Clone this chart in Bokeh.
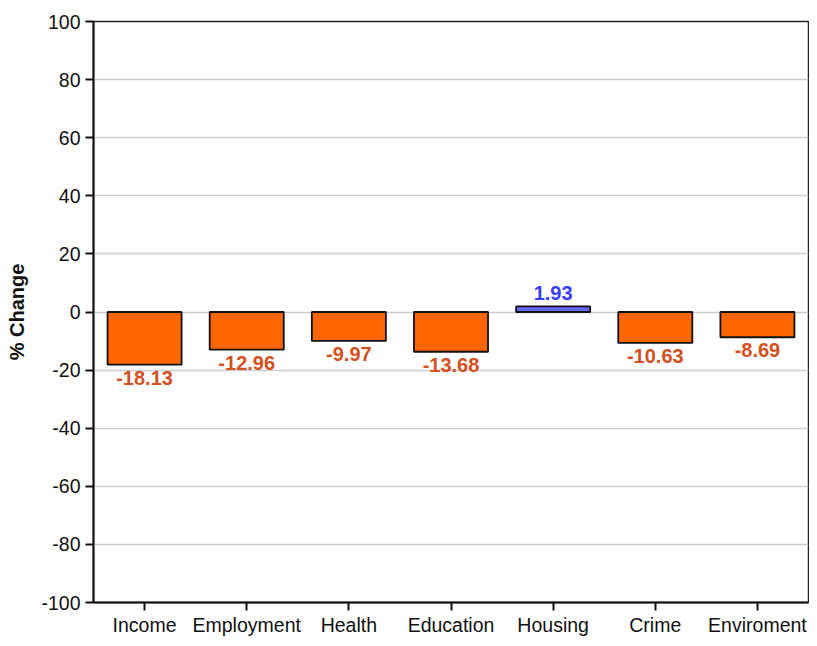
from bokeh.plotting import figure
from bokeh.models import ColumnDataSource, Range1d, FactorRange, LabelSet, PrintfTickFormatter
from bokeh.embed import file_html
from bokeh.resources import INLINE
from bokeh.core.properties import value

categories = ["Income", "Employment", "Health", "Education", "Housing", "Crime", "Enviroment"]
changes = [-18.13, -12.96, -9.97, -13.68, 1.93, -10.63, -8.69]
y_ticks = [-100, -80, -60, -40, -20, 0, 20, 40, 60, 80, 100]

neg_fill = "#ff6600"
pos_fill = "#6464ff"
neg_text = "#d4501e"
pos_text = "#3c3cff"

fills = [pos_fill if v >= 0 else neg_fill for v in changes]
label_text = [f"{v:.2f}" for v in changes]

neg_idx = [i for i, v in enumerate(changes) if v < 0]
pos_idx = [i for i, v in enumerate(changes) if v >= 0]

src = ColumnDataSource(dict(cat=categories, val=changes, fill=fills))
neg_src = ColumnDataSource(dict(cat=[categories[i] for i in neg_idx],
                                val=[changes[i] for i in neg_idx],
                                txt=[label_text[i] for i in neg_idx]))
pos_src = ColumnDataSource(dict(cat=[categories[i] for i in pos_idx],
                                val=[changes[i] for i in pos_idx],
                                txt=[label_text[i] for i in pos_idx]))

p = figure(width=809, height=638, output_backend="svg", toolbar_location=None,
           x_range=FactorRange(*categories, range_padding=0),
           y_range=Range1d(-100, 100),
           min_border_left=93, min_border_top=21, min_border_right=1, min_border_bottom=31)

p.vbar(x="cat", top="val", bottom=0, width=0.725, source=src,
       fill_color="fill", line_color="#111111", line_width=1.8)

p.add_layout(LabelSet(x="cat", y="val", text="txt", source=neg_src,
                      text_align="center", text_baseline="top", y_offset=-6,
                      text_font=value("Liberation Sans"), text_font_style="bold",
                      text_font_size="20px", text_color=neg_text))
p.add_layout(LabelSet(x="cat", y="val", text="txt", source=pos_src,
                      text_align="center", text_baseline="bottom", y_offset=6,
                      text_font=value("Liberation Sans"), text_font_style="bold",
                      text_font_size="20px", text_color=pos_text))

p.outline_line_color = "#222222"
p.outline_line_width = 1.5
p.background_fill_color = "white"
p.border_fill_color = "white"

p.xgrid.grid_line_color = None
p.ygrid.grid_line_color = "#cccccc"
p.ygrid.grid_line_width = 1.5
p.yaxis.ticker = y_ticks
p.yaxis.formatter = PrintfTickFormatter(format="%d")

for ax in (p.xaxis[0], p.yaxis[0]):
    ax.axis_line_color = "#111111"
    ax.axis_line_width = 2
    ax.major_tick_line_color = "#111111"
    ax.major_tick_line_width = 2
    ax.major_tick_out = 8
    ax.major_tick_in = 0
    ax.minor_tick_line_color = None
    ax.major_label_text_font = "Liberation Sans"
    ax.major_label_text_font_size = "19.5px"
    ax.major_label_text_color = "#111111"

p.yaxis.major_label_standoff = 5
p.xaxis.major_label_standoff = 3
p.yaxis.axis_label = "% Change"
p.yaxis.axis_label_text_font = "Liberation Sans"
p.yaxis.axis_label_text_font_style = "bold"
p.yaxis.axis_label_text_font_size = "20px"
p.yaxis.axis_label_text_color = "#111111"
p.yaxis.axis_label_standoff = 10

open("out.html", "w").write(file_html(p, INLINE))
